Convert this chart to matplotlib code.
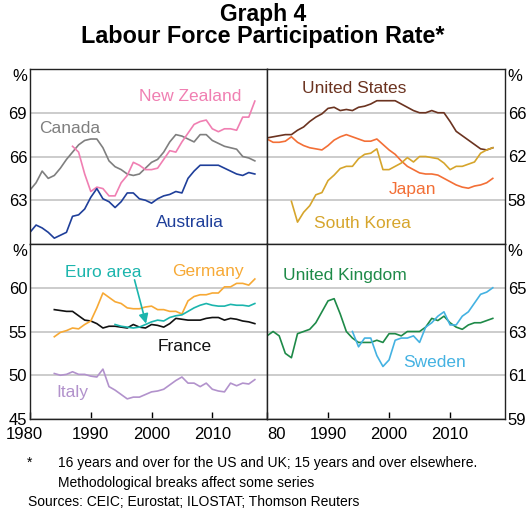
import numpy as np
import matplotlib
matplotlib.use("Agg")
import matplotlib.pyplot as plt
import matplotlib.transforms as mtransforms

plt.rcParams['font.family'] = ['Liberation Sans', 'DejaVu Sans']

# --- data (annual) ---
yrs_full = list(range(1980, 2018))
yrs_84 = list(range(1984, 2018))
yrs_87 = list(range(1987, 2018))
yrs_94 = list(range(1994, 2018))

australia = [60.8, 61.3, 61.1, 60.8, 60.4, 60.6, 60.8, 61.9, 62.0, 62.4,
             63.2, 63.8, 63.1, 62.9, 62.5, 62.9, 63.5, 63.5, 63.1, 63.0,
             62.8, 63.1, 63.3, 63.4, 63.6, 63.5, 64.5, 65.0, 65.4, 65.4,
             65.4, 65.4, 65.2, 65.0, 64.8, 64.7, 64.9, 64.8]
canada = [63.7, 64.2, 65.0, 64.5, 64.7, 65.2, 65.8, 66.3, 66.8, 67.1,
          67.2, 67.2, 66.6, 65.7, 65.3, 65.1, 64.8, 64.7, 64.8, 65.2,
          65.6, 65.8, 66.3, 67.0, 67.5, 67.4, 67.2, 67.0, 67.5, 67.5,
          67.1, 66.9, 66.7, 66.6, 66.5, 66.0, 65.9, 65.7]
new_zealand = [66.7, 66.3, 64.8, 63.6, 63.9, 63.8, 63.3, 63.3, 64.2, 64.7,
               65.6, 65.4, 65.1, 65.1, 65.2, 65.8, 66.4, 66.3, 67.0, 67.6,
               68.2, 68.4, 68.5, 67.9, 67.7, 67.9, 67.9, 67.8, 68.7, 68.7,
               69.8]

united_states = [63.7, 63.8, 63.9, 64.0, 64.0, 64.4, 64.7, 65.2, 65.6, 65.9,
                 66.4, 66.5, 66.2, 66.3, 66.2, 66.5, 66.6, 66.8, 67.1, 67.1,
                 67.1, 67.1, 66.8, 66.5, 66.2, 66.0, 66.0, 66.2, 66.0, 66.0,
                 65.2, 64.3, 63.9, 63.5, 63.1, 62.7, 62.6, 62.8]
japan = [63.6, 63.3, 63.3, 63.4, 63.8, 63.3, 63.0, 62.8, 62.7, 62.6,
         63.0, 63.5, 63.8, 64.0, 63.8, 63.6, 63.4, 63.4, 63.6, 63.1,
         62.6, 62.2, 61.6, 61.1, 60.8, 60.5, 60.4, 60.4, 60.3, 60.0,
         59.7, 59.4, 59.2, 59.1, 59.3, 59.4, 59.6, 60.0]
south_korea = [57.9, 56.0, 56.9, 57.5, 58.5, 58.7, 59.8, 60.3, 60.9, 61.1,
               61.1, 61.8, 62.2, 62.3, 62.7, 60.8, 60.8, 61.1, 61.4, 61.9,
               61.5, 62.0, 62.0, 61.9, 61.8, 61.4, 60.8, 61.1, 61.1, 61.3,
               61.5, 62.3, 62.6, 62.8]
korea_yrs = list(range(1984, 2018))

germany = [54.4, 54.9, 55.1, 55.4, 55.3, 55.8, 56.2, 57.7, 59.4, 58.9,
           58.4, 58.2, 57.7, 57.6, 57.6, 57.8, 57.9, 57.5, 57.5, 57.3,
           57.3, 57.0, 58.5, 59.0, 59.2, 59.2, 59.4, 59.4, 60.1, 60.1,
           60.5, 60.5, 60.3, 61.0]
france = [57.5, 57.4, 57.3, 57.3, 56.8, 56.3, 56.2, 55.9, 55.4, 55.6,
          55.6, 55.5, 55.4, 55.8, 55.5, 55.4, 55.8, 55.7, 55.5, 55.9,
          56.5, 56.4, 56.3, 56.3, 56.3, 56.5, 56.6, 56.6, 56.3, 56.5,
          56.4, 56.2, 56.1, 55.9]
italy = [50.2, 50.0, 50.1, 50.4, 50.1, 50.1, 49.9, 49.8, 50.7, 48.7,
         48.3, 47.8, 47.3, 47.5, 47.5, 47.8, 48.1, 48.2, 48.4, 48.9,
         49.4, 49.8, 49.1, 49.1, 48.7, 49.1, 48.4, 48.2, 48.1, 49.1,
         48.8, 49.1, 49.0, 49.5]
euro_area = [55.8, 55.6, 55.5, 55.4, 55.5, 55.8, 56.1, 56.3, 56.2, 56.6,
             56.8, 56.9, 57.3, 57.7, 58.0, 58.2, 58.0, 57.9, 57.9, 58.1,
             58.0, 58.0, 57.9, 58.2]

united_kingdom = [62.8, 63.0, 62.8, 62.0, 61.8, 62.9, 63.0, 63.1, 63.4, 63.9,
                  64.4, 64.5, 63.8, 63.0, 62.7, 62.5, 62.5, 62.5, 62.6, 62.5,
                  62.9, 62.9, 62.8, 63.0, 63.0, 63.0, 63.2, 63.6, 63.5, 63.7,
                  63.4, 63.2, 63.1, 63.3, 63.4, 63.4, 63.5, 63.6]
sweden = [63.0, 62.3, 62.7, 62.7, 61.9, 61.4, 61.7, 62.6, 62.7, 62.7,
          62.8, 62.5, 63.2, 63.4, 63.7, 63.9, 63.3, 63.3, 63.7, 63.9,
          64.3, 64.7, 64.8, 65.0]

# --- colours ---
C_AUS = '#1f3f9a'
C_CAN = '#7f7f7f'
C_NZ = '#f07fb2'
C_US = '#6b3320'
C_JP = '#f36f36'
C_KR = '#d6a52c'
C_EU = '#1bb5ad'
C_DE = '#f7a935'
C_FR = '#111111'
C_IT = '#b292cc'
C_UK = '#1e8a48'
C_SE = '#44b2e2'

TICK_FS = 12
LABEL_FS = 12.5

fig = plt.figure(figsize=(5.26, 5.09), dpi=100)
W, H = 526, 509


def add_axes(x0, y0, x1, y1):
    return fig.add_axes([x0 / W, 1 - y1 / H, (x1 - x0) / W, (y1 - y0) / H])


ax_tl = add_axes(30, 69, 267, 244)
ax_tr = add_axes(267, 69, 505, 244)
ax_bl = add_axes(30, 244, 267, 419)
ax_br = add_axes(267, 244, 505, 419)

setup = [
    (ax_tl, (60, 72), [63, 66, 69], 'left'),
    (ax_tr, (54, 70), [58, 62, 66], 'right'),
    (ax_bl, (45, 65), [45, 50, 55, 60], 'left'),
    (ax_br, (59, 67), [59, 61, 63, 65], 'right'),
]
for ax, ylim, yt, side in setup:
    ax.set_xlim(1980, 2019)
    ax.set_ylim(*ylim)
    ax.set_yticks(yt)
    ax.grid(axis='y', color='#c4c4c4', linewidth=1.2)
    ax.set_axisbelow(True)
    for s in ax.spines.values():
        s.set_linewidth(1.0)
        s.set_color('#222222')
    if side == 'left':
        ax.tick_params(axis='y', length=0, pad=2, labelsize=TICK_FS,
                       left=True, labelleft=True, right=False, labelright=False)
        ax.text(-0.01, 1.0, '%', transform=ax.transAxes, ha='right', va='top',
                fontsize=TICK_FS)
    else:
        ax.tick_params(axis='y', length=0, pad=2, labelsize=TICK_FS,
                       left=False, labelleft=False, right=True, labelright=True)
        ax.text(1.01, 1.0, '%', transform=ax.transAxes, ha='left', va='top',
                fontsize=TICK_FS)

for ax in (ax_tl, ax_tr):
    ax.tick_params(axis='x', bottom=False, labelbottom=False)

for ax, labels in ((ax_bl, ['1980', '1990', '2000', '2010']),
                   (ax_br, ['80', '1990', '2000', '2010'])):
    ax.set_xticks([1980, 1990, 2000, 2010])
    ax.set_xticklabels(labels)
    ax.tick_params(axis='x', direction='in', length=5, width=1.0, pad=6,
                   labelsize=TICK_FS)

# nudge the first year labels like the original
lbl = ax_bl.get_xticklabels()[0]
lbl.set_transform(lbl.get_transform() + mtransforms.ScaledTranslation(-6 / 100, 0, fig.dpi_scale_trans))
ax_br.get_xticklabels()[0].set_ha('left')

lw = 1.2
# top-left
ax_tl.plot(yrs_full, canada, color=C_CAN, lw=lw)
ax_tl.plot(yrs_87, new_zealand, color=C_NZ, lw=lw)
ax_tl.plot(yrs_full, australia, color=C_AUS, lw=lw)
ax_tl.text(1981.5, 67.9, 'Canada', color=C_CAN, fontsize=LABEL_FS, ha='left', va='center')
ax_tl.text(2006.4, 70.1, 'New Zealand', color=C_NZ, fontsize=LABEL_FS, ha='center', va='center')
ax_tl.text(2006.3, 61.5, 'Australia', color=C_AUS, fontsize=LABEL_FS, ha='center', va='center')

# top-right
ax_tr.plot(yrs_full, united_states, color=C_US, lw=lw)
ax_tr.plot(yrs_full, japan, color=C_JP, lw=lw)
ax_tr.plot(korea_yrs, south_korea, color=C_KR, lw=lw)
ax_tr.text(1994.3, 68.2, 'United States', color=C_US, fontsize=LABEL_FS, ha='center', va='center')
ax_tr.text(2003.9, 59.0, 'Japan', color=C_JP, fontsize=LABEL_FS, ha='center', va='center')
ax_tr.text(1995.6, 55.9, 'South Korea', color=C_KR, fontsize=LABEL_FS, ha='center', va='center')

# bottom-left
ax_bl.plot(yrs_84, france, color=C_FR, lw=lw)
ax_bl.plot(yrs_84, germany, color=C_DE, lw=lw)
ax_bl.plot(yrs_94, euro_area, color=C_EU, lw=lw)
ax_bl.plot(yrs_84, italy, color=C_IT, lw=lw)
ax_bl.text(1992.0, 61.75, 'Euro area', color=C_EU, fontsize=LABEL_FS, ha='center', va='center')
ax_bl.text(2009.2, 61.9, 'Germany', color=C_DE, fontsize=LABEL_FS, ha='center', va='center')
ax_bl.text(2005.4, 53.3, 'France', color=C_FR, fontsize=LABEL_FS, ha='center', va='center')
ax_bl.text(1987.0, 48.0, 'Italy', color=C_IT, fontsize=LABEL_FS, ha='center', va='center')
ax_bl.annotate('', xy=(1999.1, 55.9), xytext=(1997.2, 60.9),
               arrowprops=dict(arrowstyle='-|>', color=C_EU, lw=1.2,
                               mutation_scale=14, shrinkA=0, shrinkB=0))

# bottom-right
ax_br.plot(yrs_full, united_kingdom, color=C_UK, lw=lw)
ax_br.plot(yrs_94, sweden, color=C_SE, lw=lw)
ax_br.text(1992.8, 65.56, 'United Kingdom', color=C_UK, fontsize=LABEL_FS, ha='center', va='center')
ax_br.text(2007.5, 61.6, 'Sweden', color=C_SE, fontsize=LABEL_FS, ha='center', va='center')

# titles
fig.text(0.5, 1 - 15 / H, 'Graph 4', ha='center', va='center', fontsize=16.5,
         fontweight='bold')
fig.text(0.5, 1 - 37 / H, 'Labour Force Participation Rate*', ha='center',
         va='center', fontsize=16.8, fontweight='bold')

# footnotes
FOOT_FS = 10
fig.text(30 / W, 1 - 463 / H, '*', ha='center', va='center', fontsize=FOOT_FS)
fig.text(58 / W, 1 - 463 / H, '16 years and over for the US and UK; 15 years and over elsewhere.',
         ha='left', va='center', fontsize=FOOT_FS)
fig.text(58 / W, 1 - 483 / H, 'Methodological breaks affect some series',
         ha='left', va='center', fontsize=FOOT_FS)
fig.text(28 / W, 1 - 502 / H, 'Sources: CEIC; Eurostat; ILOSTAT; Thomson Reuters',
         ha='left', va='center', fontsize=FOOT_FS)

fig.savefig('out.png', dpi=100)
